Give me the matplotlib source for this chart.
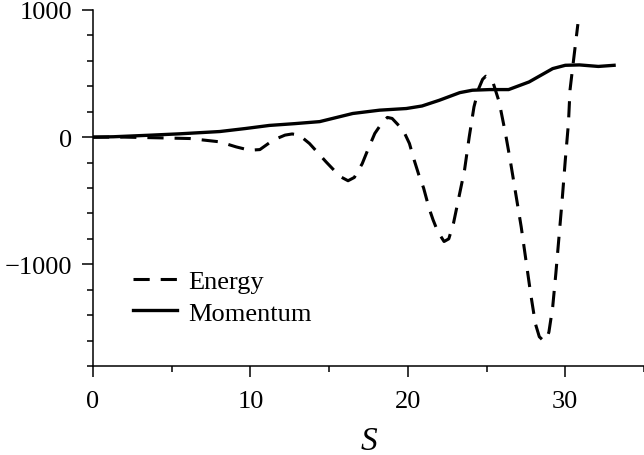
import numpy as np
import matplotlib.pyplot as plt
from matplotlib.ticker import MultipleLocator

# values
energy_s = [0, 2, 4, 6.15, 8.05, 9.1, 9.95, 10.6, 11.2, 11.7, 12.2, 12.65, 13.1,
            13.75, 14.3, 14.8, 15.2, 15.7, 16.2, 16.6, 17.1, 17.45, 17.9, 18.4,
            18.7, 19.0, 19.7, 20.1, 20.4, 20.7, 21.0, 21.35, 21.6, 21.9, 22.3,
            22.6, 22.9, 23.25, 23.6, 23.9, 24.2, 24.5, 24.75, 24.95, 25.2, 25.4,
            25.8, 26.2, 26.5, 26.85, 27.2, 27.5, 27.8, 28.1, 28.35, 28.6, 28.8,
            28.96, 29.2, 29.4, 29.6, 29.8, 30.0, 30.2, 30.3, 30.5, 30.8]
energy = [0, 0, -5, -11, -37, -77, -103, -98, -45, -10, 16, 25, 16,
          -50, -125, -194, -246, -310, -343, -317, -209, -102, 29, 120,
          155, 147, 55, -50, -180, -298, -400, -560, -650, -743, -821,
          -800, -677, -468, -259, 3, 238, 382, 455, 479, 462, 434,
          277, 29, -180, -443, -706, -968, -1231, -1467, -1570, -1600, -1590,
          -1533, -1336, -1073, -785, -496, -181, 108, 370, 580, 889]

momentum_s = [0, 1.3, 3.4, 5.5, 8.05, 9.7, 11.2, 12.8, 14.4, 16.5, 18.2, 19.9,
              20.9, 22.0, 23.3, 24.1, 25.2, 26.4, 27.7, 28.5, 29.2, 30.0, 30.9,
              32.1, 33.1]
momentum = [0, 3, 14, 26, 44, 68, 92, 106, 122, 186, 212, 225,
            245, 290, 350, 369, 374, 374, 434, 490, 539, 565, 568,
            556, 565]

plt.rcParams['font.family'] = ['Liberation Serif', 'DejaVu Serif']

fig = plt.figure(figsize=(6.44, 4.56), dpi=100)
ax = fig.add_axes([0.1444, 0.1952, 0.8556, 0.7807])

ax.plot(energy_s, energy, color='black', lw=2.2, linestyle=(0, (5.3, 3.6)),
        label='Energy')
ax.plot(momentum_s, momentum, color='black', lw=2.4, label='Momentum')

ax.set_xlim(0, 35)
ax.set_ylim(-1800, 1000)
ax.xaxis.set_major_locator(MultipleLocator(10))
ax.xaxis.set_minor_locator(MultipleLocator(5))
ax.yaxis.set_major_locator(MultipleLocator(1000))
ax.yaxis.set_minor_locator(MultipleLocator(200))

for side in ['top', 'right']:
    ax.spines[side].set_visible(False)
for side in ['left', 'bottom']:
    ax.spines[side].set_linewidth(1.1)

ax.tick_params(which='major', direction='out', length=8, width=1.1,
               labelsize=19)
ax.tick_params(axis='y', which='major', pad=7)
ax.tick_params(axis='x', which='major', pad=9)
ax.tick_params(which='minor', direction='out', length=4, width=1.1)

ax.set_xlabel('S', fontsize=24, fontstyle='italic', labelpad=10)

ax.legend(loc='upper left', bbox_to_anchor=(0.2065, 0.406),
          bbox_transform=fig.transFigure, frameon=False, fontsize=19,
          borderpad=0, borderaxespad=0, handlelength=1.68, handletextpad=0.43,
          labelspacing=0.3)

fig.savefig('out.png', dpi=100)
